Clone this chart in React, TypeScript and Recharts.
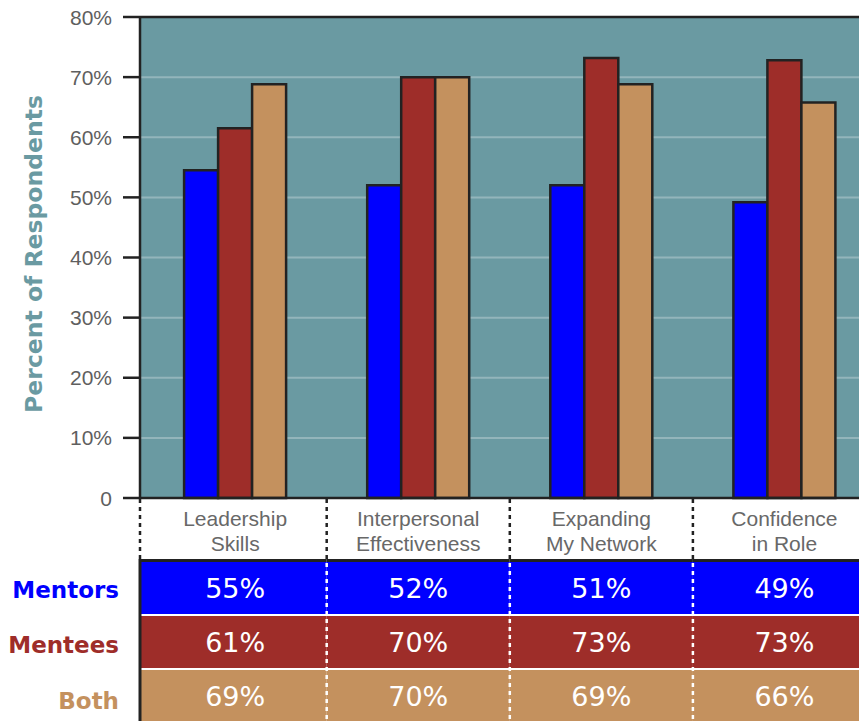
import React from 'react';
import { BarChart, Bar, XAxis, YAxis, CartesianGrid, ReferenceLine } from 'recharts';

const categories = ['Leadership Skills', 'Interpersonal Effectiveness', 'Expanding My Network', 'Confidence in Role'];
const categoryLines = [
  ['Leadership', 'Skills'],
  ['Interpersonal', 'Effectiveness'],
  ['Expanding', 'My Network'],
  ['Confidence', 'in Role'],
];
const seriesNames = ['Mentors', 'Mentees', 'Both'];
const mentorsBars = [54.5, 52, 52, 49.2];
const menteesBars = [61.5, 70, 73.2, 72.8];
const bothBars = [68.8, 70, 68.8, 65.8];
const mentorsTable = ['55%', '52%', '51%', '49%'];
const menteesTable = ['61%', '70%', '73%', '73%'];
const bothTable = ['69%', '70%', '69%', '66%'];
const yTicks = [0, 10, 20, 30, 40, 50, 60, 70, 80];

const COLORS = ['#0000ff', '#9e2d29', '#c4915e'];
const TEAL = '#6a9aa2';
const GRID = '#93b5bb';
const DARK = '#222222';

const CHART_W = 894;
const CHART_H = 721;
const MARGIN = { top: 17, right: 18, left: 0, bottom: 0 };
const Y_W = 140;
const X_H = 223;
const PAD_LEFT = 3.6;
const PLOT_LEFT = MARGIN.left + Y_W;
const PLOT_W = CHART_W - MARGIN.left - MARGIN.right - Y_W;
const BAND = (PLOT_W - PAD_LEFT) / categories.length;
const PLOT_BOTTOM = CHART_H - MARGIN.bottom - X_H;

const data = categories.map((c, i) => ({
  name: c,
  mentors: mentorsBars[i],
  mentees: menteesBars[i],
  both: bothBars[i],
}));

const tableRows = [mentorsTable, menteesTable, bothTable];

const ROW_TOP = [562, 616, 670];
const ROW_H = [52, 52, 60];
const ROW_BASE = [598, 652, 706];
const LABEL_BASE = [598, 653, 709];

const XTick = (props: any) => {
  const { x, index } = props;
  const left = index === 0 ? PLOT_LEFT : x - BAND / 2;
  const right = x + BAND / 2;
  const lines = categoryLines[index] || [];
  const isLast = index === categories.length - 1;
  return (
    <g>
      {tableRows.map((row, r) => (
        <rect key={'c' + r} x={left} y={ROW_TOP[r]} width={right - left} height={ROW_H[r]} fill={COLORS[r]} />
      ))}
      {tableRows.map((row, r) => (
        <text
          key={'t' + r}
          x={x}
          y={ROW_BASE[r]}
          textAnchor="middle"
          fill="#ffffff"
          fontFamily="DejaVu Sans"
          fontSize={27}
        >
          {row[index]}
        </text>
      ))}
      <line x1={left} x2={right} y1={560.5} y2={560.5} stroke={DARK} strokeWidth={3} />
      {lines.map((l, k) => (
        <text
          key={'l' + k}
          x={x}
          y={526 + k * 25}
          textAnchor="middle"
          fill="#686868"
          fontFamily="Liberation Sans"
          fontSize={21}
        >
          {l}
        </text>
      ))}
      <line x1={left} x2={left} y1={PLOT_BOTTOM + 1} y2={559} stroke={DARK} strokeWidth={2.5} strokeDasharray="4 4" />
      {isLast && (
        <line x1={right} x2={right} y1={PLOT_BOTTOM + 1} y2={559} stroke={DARK} strokeWidth={2.5} strokeDasharray="4 4" />
      )}
      {index === 0 ? (
        <line x1={left} x2={left} y1={559} y2={CHART_H} stroke={DARK} strokeWidth={3} />
      ) : (
        <line x1={left} x2={left} y1={563} y2={CHART_H} stroke="#ffffff" strokeWidth={2.5} strokeDasharray="4 4" />
      )}
      {isLast && (
        <line x1={right} x2={right} y1={563} y2={CHART_H} stroke="#ffffff" strokeWidth={2.5} strokeDasharray="4 4" />
      )}
      {index === 0 &&
        seriesNames.map((s, r) => (
          <text
            key={'s' + r}
            x={PLOT_LEFT - 21}
            y={LABEL_BASE[r]}
            textAnchor="end"
            fill={COLORS[r]}
            fontFamily="DejaVu Sans"
            fontWeight="bold"
            fontSize={23}
          >
            {s}
          </text>
        ))}
    </g>
  );
};

const YTick = (props: any) => {
  const { x, y, payload } = props;
  const v = payload.value;
  return (
    <text x={x} y={y} dy="0.36em" textAnchor="end" fill="#5f5f5f" fontFamily="Liberation Sans" fontSize={21}>
      {v === 0 ? '0' : v + '%'}
    </text>
  );
};

const YTitle = () => {
  const cx = 34;
  const cy = 254;
  return (
    <text
      x={cx}
      y={cy}
      transform={`rotate(-90 ${cx} ${cy})`}
      textAnchor="middle"
      dominantBaseline="central"
      fill={TEAL}
      fontFamily="DejaVu Sans"
      fontWeight="bold"
      fontSize={23.5}
    >
      Percent of Respondents
    </text>
  );
};

export default function App() {
  return (
    <div style={{ position: 'fixed', left: 0, top: 0, width: 859, height: 721, overflow: 'hidden', background: '#fff' }}>
      <BarChart
        width={CHART_W}
        height={CHART_H}
        data={data}
        margin={MARGIN}
        barCategoryGap={40.5}
        barGap={0}
      >
        <CartesianGrid vertical={false} horizontal={true} fill={TEAL} stroke={GRID} strokeWidth={2} fillOpacity={1} />
        <XAxis
          dataKey="name"
          height={X_H}
          tick={<XTick />}
          tickLine={false}
          axisLine={{ stroke: DARK, strokeWidth: 2.5 }}
          interval={0}
          padding={{ left: PAD_LEFT, right: 0 }}
        />
        <YAxis
          width={Y_W}
          domain={[0, 80]}
          ticks={yTicks}
          tick={<YTick />}
          tickSize={17}
          tickMargin={11}
          tickLine={{ stroke: DARK, strokeWidth: 2.5 }}
          axisLine={{ stroke: DARK, strokeWidth: 2.5 }}
          interval={0}
          label={{ content: () => <YTitle /> }}
        />
        <ReferenceLine y={80} stroke={DARK} strokeWidth={2.5} />
        <Bar dataKey="mentors" fill={COLORS[0]} stroke={DARK} strokeWidth={2.5} isAnimationActive={false} />
        <Bar dataKey="mentees" fill={COLORS[1]} stroke={DARK} strokeWidth={2.5} isAnimationActive={false} />
        <Bar dataKey="both" fill={COLORS[2]} stroke={DARK} strokeWidth={2.5} isAnimationActive={false} />
      </BarChart>
    </div>
  );
}
